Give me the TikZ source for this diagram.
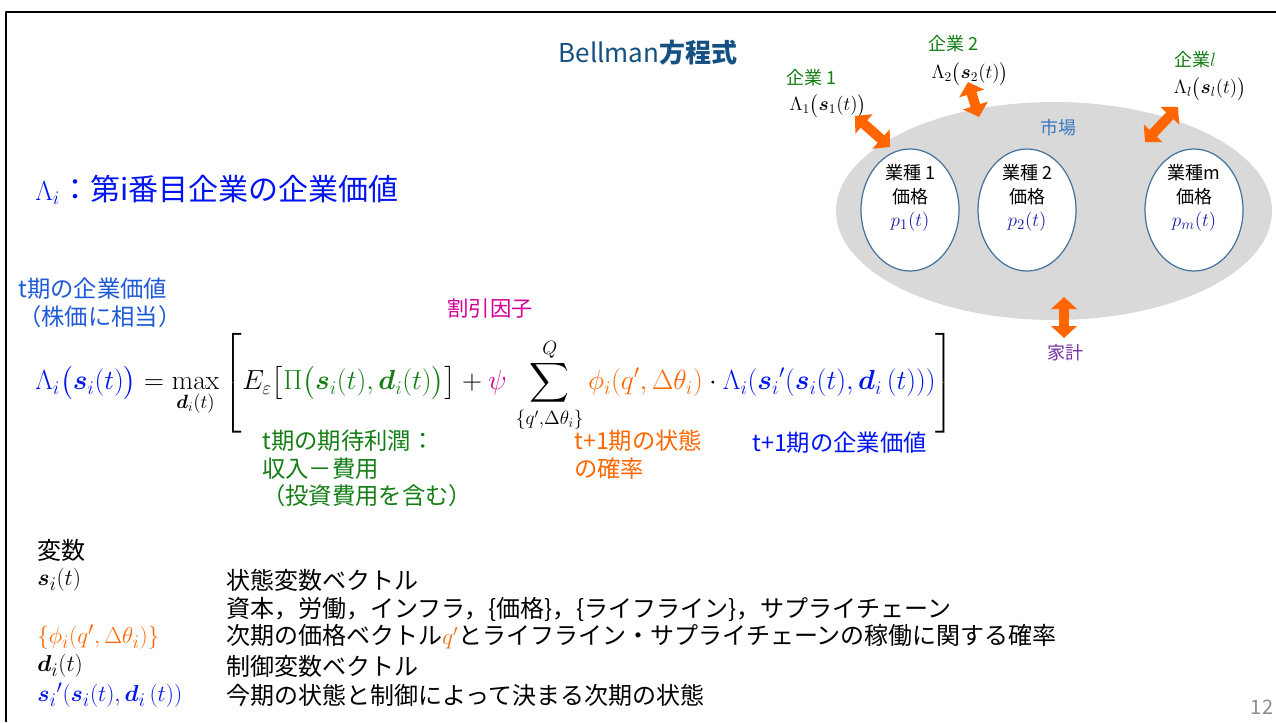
\documentclass[tikz,border=0pt]{standalone}
\usepackage[no-math]{fontspec}
\setmainfont{Noto Sans CJK JP}
\usepackage{amsmath,bm}
\usetikzlibrary{arrows.meta,shapes.geometric}
\definecolor{ttl}{RGB}{20,80,130}
\definecolor{eqblue}{RGB}{0,20,240}
\definecolor{lblue}{RGB}{30,90,215}
\definecolor{kgreen}{RGB}{20,125,20}
\definecolor{korange}{RGB}{255,102,0}
\definecolor{kmag}{RGB}{210,0,150}
\definecolor{kpurple}{RGB}{112,48,160}
\definecolor{mkt}{RGB}{60,120,190}
\definecolor{pblue}{RGB}{30,30,170}
\definecolor{ebd}{RGB}{65,113,156}
\definecolor{pgno}{RGB}{140,140,140}
\begin{document}
\begin{tikzpicture}[x=.75pt, y=-.75pt, line join=round,
	txt/.style={inner sep=0pt, align=left},
	fbig/.style={font=\fontsize{22.5}{27}\selectfont},
	fmid/.style={font=\fontsize{17.5}{20.6}\selectfont},
	fsml/.style={font=\fontsize{13.5}{17.5}\selectfont},
	gyoshu/.style={ellipse, draw=ebd, fill=white, line width=.9pt, minimum width=73.5pt, minimum height=91.5pt, inner sep=0pt},
	sougo/.style={draw=korange, line width=7.5pt, {Triangle[length=9pt,width=19pt]}-{Triangle[length=9pt,width=19pt]}}]
	\useasboundingbox (0,0) rectangle (1276,722);
	\draw[line width=1.5pt] (6,722)--(6,12)--(1276,12); % khung
	\node[txt, text=ttl, font=\fontsize{19.5}{23}\selectfont] (title) at (648,53) {Bellman\textbf{方程式}};
	\node[txt, fbig, text=eqblue, anchor=west] (lam) at (35,190) {{\fontsize{20}{22}\selectfont$\Lambda_i$}：第i番目企業の企業価値};
	% thi truong
	\node[ellipse, fill=black!15, minimum width=327pt, minimum height=163.5pt] (shijo) at (1054,211) {};
	\node[txt, fsml, text=mkt] (mlab) at (1058,128) {市場};
	\foreach \cx/\nm/\lab/\p in {910/g1/{業種 1}/p_1, 1027/g2/{業種 2}/p_2, 1194/gm/{業種m}/p_m}
	{
		\node[gyoshu] (\nm) at (\cx,210) {};
		\node[txt, fsml, align=center] at ([yshift=9pt]\nm.center) {\lab\\価格\\{\color{pblue}\fontsize{15}{17}\selectfont$\p(t)$}};
	}
	% cac doanh nghiep
	\node[txt, fsml, text=kgreen] (k1) at (811,78) {企業 1};
	\node[txt, font=\fontsize{14.5}{17}\selectfont] (L1) at (828,106) {$\Lambda_1\bigl(\bm{s}_1(t)\bigr)$};
	\node[txt, fsml, text=kgreen] (k2) at (953,44) {企業 2};
	\node[txt, font=\fontsize{14.5}{17}\selectfont] (L2) at (970,74) {$\Lambda_2\bigl(\bm{s}_2(t)\bigr)$};
	\node[txt, fsml, text=kgreen] (kl) at (1195,60) {企業$l$};
	\node[txt, font=\fontsize{14.5}{17}\selectfont] (Ll) at (1210,89) {$\Lambda_l\bigl(\bm{s}_l(t)\bigr)$};
	\node[txt, fsml, text=kpurple] (kakei) at (1065,353) {家計};
	\coordinate (a1) at (855,116); \coordinate (b1) at (890,147);
	\coordinate (a2) at (968,82);  \coordinate (b2) at (979,117);
	\coordinate (a3) at (1178,107); \coordinate (b3) at (1145,142);
	\coordinate (a4) at (1064,297); \coordinate (b4) at (1064,338);
	\foreach \i in {1,...,4} \draw[sougo] (a\i)--(b\i);
	% phuong trinh
	\node[txt, fmid, text=lblue, anchor=north west] (tval) at (18,278) {t期の企業価値\\（株価に相当）};
	\node[txt, font=\fontsize{16}{19}\selectfont, text=kmag] (wari) at (490,308) {割引因子};
	\node[txt, anchor=west, font=\fontsize{20.3}{24}\selectfont] (bell) at (35,383) {$\displaystyle
		{\color{eqblue}\Lambda_i\bigl(\bm{s}_i(t)\bigr)} = \max_{\bm{d}_i(t)}
		\left[ E_\varepsilon\bigl[{\color{kgreen}\Pi\bigl(\bm{s}_i(t),\bm{d}_i(t)\bigr)}\bigr]
		+ {\color{kmag}\psi}\,\sum_{\{q',\Delta\theta_i\}}^{Q}
		{\color{korange}\phi_i(q',\Delta\theta_i)}\cdot
		{\color{eqblue}\Lambda_i(\bm{s}_i{}'(\bm{s}_i(t),\bm{d}_i\,(t)))}\right]$};
	\node[txt, fmid, text=kgreen, anchor=north west] (rieki) at (262,430) {t期の期待利潤：\\収入－費用\\（投資費用を含む）};
	\node[txt, fmid, text=korange, anchor=north west] (kaku) at (574,430) {t+1期の状態\\の確率};
	\node[txt, fmid, text=eqblue, anchor=west] (tnext) at (752,443) {t+1期の企業価値};
	% bien so
	\begin{scope}[every node/.style={txt, anchor=west, font=\fontsize{18}{21}\selectfont}]
		\node (v0) at (37,550) {変数};
		\node[font=\fontsize{19}{22}\selectfont] (v1) at (37,580) {$\bm{s}_i(t)$};
		\node (w1) at (226,580) {状態変数ベクトル};
		\node (w2) at (226,609) {資本，労働，インフラ，\{価格\}，\{ライフライン\}，サプライチェーン};
		\node[text=korange, font=\fontsize{19}{22}\selectfont] (v3) at (37,637) {$\{\phi_i(q',\Delta\theta_i)\}$};
		\node (w3) at (226,637) {次期の価格ベクトル{\color{korange}$q'$}とライフライン・サプライチェーンの稼働に関する確率};
		\node[font=\fontsize{19}{22}\selectfont] (v4) at (37,666) {$\bm{d}_i(t)$};
		\node (w4) at (226,666) {制御変数ベクトル};
		\node[text=eqblue, font=\fontsize{19}{22}\selectfont] (v5) at (37,695) {$\bm{s}_i{}'(\bm{s}_i(t),\bm{d}_i\,(t))$};
		\node (w5) at (226,695) {今期の状態と制御によって決まる次期の状態};
	\end{scope}
	\node[txt, text=pgno, font=\fontsize{15}{18}\selectfont] (pg) at (1262,707) {12};
\end{tikzpicture}
\end{document}
